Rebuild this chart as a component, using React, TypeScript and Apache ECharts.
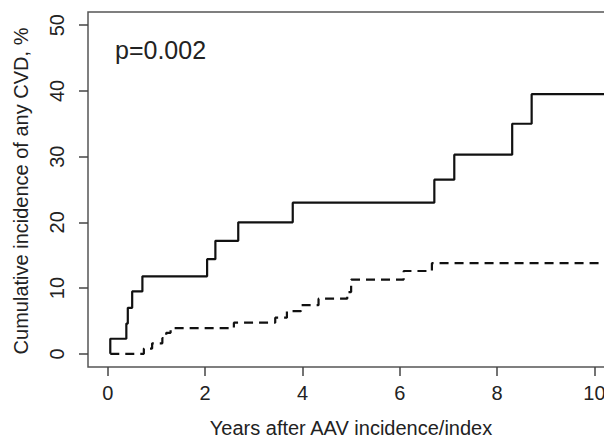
import React, { useEffect, useRef } from "react";
import * as echarts from "echarts";

const solidTimes = [0.05, 0.05, 0.38, 0.41, 0.5, 0.71, 2.04, 2.21, 2.68, 3.8, 6.71, 7.12, 8.31, 8.71, 10.6];
const solidValues = [0, 2.3, 4.6, 7.0, 9.5, 11.8, 14.4, 17.2, 20.0, 23.0, 26.5, 30.3, 35.0, 39.5, 39.5];

const dashedTimes = [0.05, 0.74, 0.91, 1.12, 1.2, 1.29, 2.59, 3.44, 3.68, 3.97, 4.33, 4.92, 5.0, 6.08, 6.66, 10.6];
const dashedValues = [0, 0.8, 1.6, 2.4, 3.2, 3.9, 4.75, 5.5, 6.5, 7.4, 8.4, 9.4, 11.3, 12.6, 13.8, 13.8];

const xTicks = [0, 2, 4, 6, 8, 10];
const yTicks = [0, 10, 20, 30, 40, 50];

const xTitle = "Years after AAV incidence/index";
const yTitle = "Cumulative incidence of any CVD, %";
const pText = "p=0.002";

const FONT = "'Liberation Sans', Arial, Helvetica, sans-serif";

export default function App() {
  const ref = useRef<HTMLDivElement>(null);
  useEffect(() => {
    if (!ref.current) return;
    const chart = echarts.init(ref.current, undefined, { renderer: "svg" });
    const pair = (xs: number[], ys: number[]) => xs.map((x, i) => [x, ys[i]]);
    chart.setOption({
      animation: false,
      grid: {
        left: 88,
        top: 12,
        width: 536,
        height: 355,
        show: true,
        outerBoundsMode: "none",
        containLabel: false,
        borderColor: "#555",
        borderWidth: 1.5,
        backgroundColor: "transparent",
      },
      xAxis: {
        type: "value",
        min: -0.408,
        max: 10.608,
        axisLine: { show: false, onZero: false },
        splitLine: { show: false },
        axisTick: {
          show: true,
          customValues: xTicks,
          length: 9,
          lineStyle: { color: "#444", width: 1.5 },
        },
        axisLabel: {
          customValues: xTicks,
          margin: 16,
          fontSize: 20,
          color: "#222",
          fontFamily: FONT,
          showMinLabel: true,
          showMaxLabel: true,
        },
      },
      yAxis: {
        type: "value",
        min: -2,
        max: 52,
        axisLine: { show: false, onZero: false },
        splitLine: { show: false },
        axisTick: {
          show: true,
          customValues: yTicks,
          length: 9,
          lineStyle: { color: "#444", width: 1.5 },
        },
        axisLabel: {
          customValues: yTicks,
          rotate: 90,
          margin: 21,
          fontSize: 20,
          color: "#222",
          fontFamily: FONT,
          showMinLabel: true,
          showMaxLabel: true,
        },
      },
      graphic: [
        {
          type: "text",
          left: 115,
          top: 37,
          style: { text: pText, fontSize: 25, fill: "#222", fontFamily: FONT },
        },
        {
          type: "text",
          x: 351,
          y: 428,
          style: {
            text: xTitle,
            fontSize: 20,
            fill: "#222",
            fontFamily: FONT,
            align: "center",
            verticalAlign: "middle",
          },
        },
        {
          type: "text",
          x: 21,
          y: 191,
          rotation: Math.PI / 2,
          style: {
            text: yTitle,
            fontSize: 20,
            fill: "#222",
            fontFamily: FONT,
            align: "center",
            verticalAlign: "middle",
          },
        },
      ],
      series: [
        {
          type: "line",
          step: "end",
          data: pair(solidTimes, solidValues),
          showSymbol: false,
          symbol: "none",
          lineStyle: { color: "#111", width: 2.2 },
        },
        {
          type: "line",
          step: "end",
          data: pair(dashedTimes, dashedValues),
          showSymbol: false,
          symbol: "none",
          lineStyle: { color: "#111", width: 2.2, type: [9, 6] },
        },
      ],
    });
    return () => chart.dispose();
  }, []);
  return <div ref={ref} style={{ width: 604, height: 440, position: "absolute", left: 0, top: 0 }} />;
}
